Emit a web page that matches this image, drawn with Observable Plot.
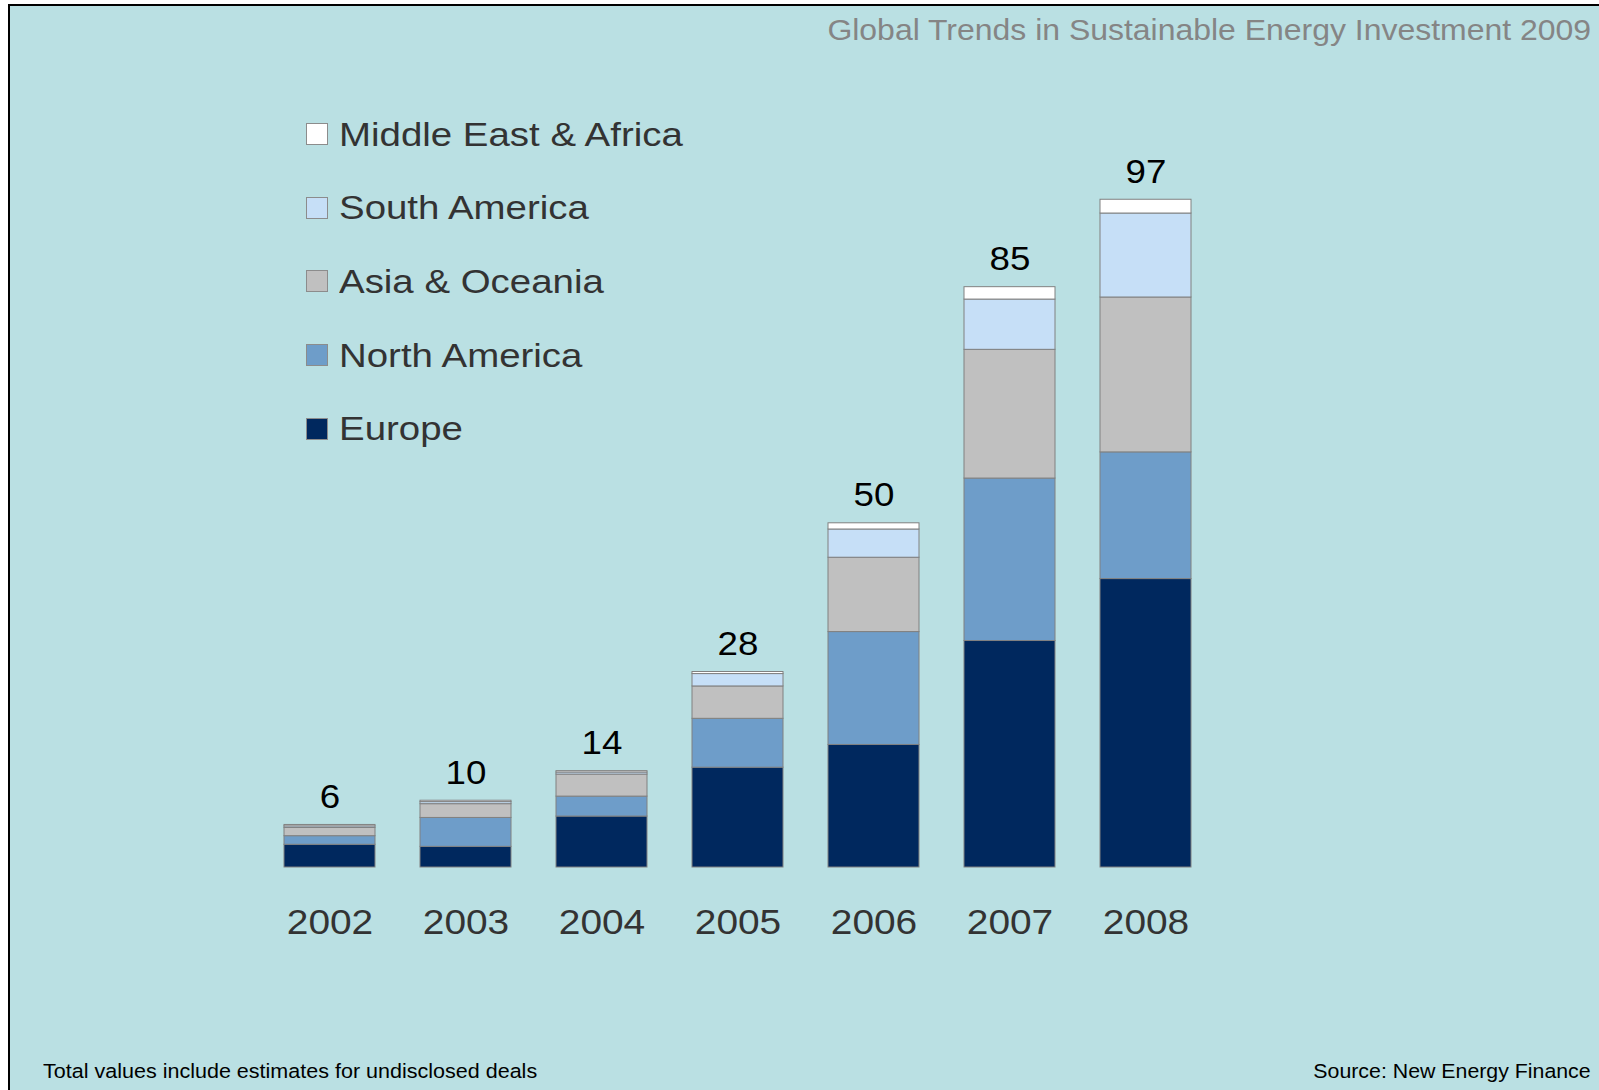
<!DOCTYPE html>
<html>
<head>
<meta charset="utf-8">
<script src="https://cdn.jsdelivr.net/npm/d3@7"></script>
<script src="https://cdn.jsdelivr.net/npm/@observablehq/plot@0.6"></script>
<style>
  html, body { margin: 0; padding: 0; background: #ffffff; }
  #frame {
    position: relative; width: 1599px; height: 1090px; overflow: hidden;
    background: #ffffff;
  }
  #panel {
    position: absolute; left: 8px; top: 4px; width: 1600px; height: 1100px;
    background: #BAE0E3; border-left: 2px solid #000; border-top: 2px solid #000;
  }
  .txt { position: absolute; font-family: "Liberation Sans", Arial, sans-serif; white-space: nowrap; }
  #title { right: 8px; top: 13px; font-size: 30px; color: #858585; transform: scaleX(1.065); transform-origin: right center; }
  #note { left: 43px; top: 1059px; font-size: 20.5px; color: #000; transform: scaleX(1.05); transform-origin: left center; }
  #source { right: 8px; top: 1059px; font-size: 20.5px; color: #000; transform: scaleX(1.04); transform-origin: right center; }
  #legend { position: absolute; left: 306px; top: 0; }
  .lg { position: absolute; left: 0; height: 40px; display: flex; align-items: center; font-family: "Liberation Sans", Arial, sans-serif; font-size: 34px; color: #333333; white-space: nowrap; }
  .lg span { display: inline-block; transform: scaleX(1.13); transform-origin: left center; }
  .sw { width: 22px; height: 22px; border: 1px solid #8c8c8c; margin-right: 11px; box-sizing: border-box; }
  #chart { position: absolute; left: 0; top: 0; }
</style>
</head>
<body>
<div id="frame">
  <div id="panel"></div>
  <div id="chart"></div>
  <div id="legend"></div>
  <div class="txt" id="title">Global Trends in Sustainable Energy Investment 2009</div>
  <div class="txt" id="note">Total values include estimates for undisclosed deals</div>
  <div class="txt" id="source">Source: New Energy Finance</div>
</div>
<script>
const years = ["2002", "2003", "2004", "2005", "2006", "2007", "2008"];
const regions = ["Europe", "North America", "Asia & Oceania", "South America", "Middle East & Africa"];
const colors = ["#00285E", "#6E9DC9", "#C0C0C0", "#C6DFF7", "#FFFFFF"];
const europe = [3.3, 3.0, 7.4, 14.5, 17.8, 32.9, 41.9];
const northAmerica = [1.25, 4.2, 2.9, 7.1, 16.4, 23.6, 18.4];
const asiaOceania = [1.2, 2.0, 3.2, 4.7, 10.8, 18.7, 22.5];
const southAmerica = [0.23, 0.3, 0.3, 1.8, 4.1, 7.3, 12.2];
const middleEastAfrica = [0.2, 0.2, 0.2, 0.3, 0.9, 1.8, 2.0];
const totals = [6, 10, 14, 28, 50, 85, 97];

const series = [europe, northAmerica, asiaOceania, southAmerica, middleEastAfrica];
const data = [];
regions.forEach((r, i) => years.forEach((y, j) => data.push({year: y, region: r, value: series[i][j]})));
const tops = years.map((y, j) => ({year: y, top: d3.sum(series, s => s[j]), label: String(totals[j])}));

const W = 1599, H = 1090;
const plot = Plot.plot({
  width: W,
  height: H,
  marginLeft: 236.3,
  marginRight: 360.2,
  marginTop: 178.6,
  marginBottom: 223,
  style: {background: "transparent", fontFamily: "'Liberation Sans', Arial, sans-serif", overflow: "visible"},
  x: {domain: years, padding: 0.33, label: null},
  y: {domain: [0, 100], axis: null},
  color: {domain: regions, range: colors},
  marks: [
    Plot.barY(data, {x: "year", y: "value", fill: "region", order: regions, stroke: "#808080", strokeWidth: 1}),
    Plot.text(tops, {x: "year", y: "top", text: "label", dy: -28, fontSize: 34, fill: "#000", className: "totals"}),
    Plot.axisX({tickSize: 0, tickPadding: 41, fontSize: 36, color: "#333333", label: null, className: "years"})
  ]
});
// slight horizontal stretch of the labels, as in the reference rendering
d3.select(plot).selectAll("g.totals text, g.years text").each(function() {
  const t = this.getAttribute("transform") || "";
  this.setAttribute("transform", t + " scale(1.08,1)");
});
document.getElementById("chart").appendChild(plot);

const legend = document.getElementById("legend");
const legendOrder = regions.slice().reverse();
legendOrder.forEach((r, i) => {
  const row = document.createElement("div");
  row.className = "lg";
  row.style.top = (114 + i * 73.7) + "px";
  const sw = document.createElement("div");
  sw.className = "sw";
  sw.style.background = colors[regions.indexOf(r)];
  row.appendChild(sw);
  const t = document.createElement("span");
  t.textContent = r;
  row.appendChild(t);
  legend.appendChild(row);
});
</script>
</body>
</html>
